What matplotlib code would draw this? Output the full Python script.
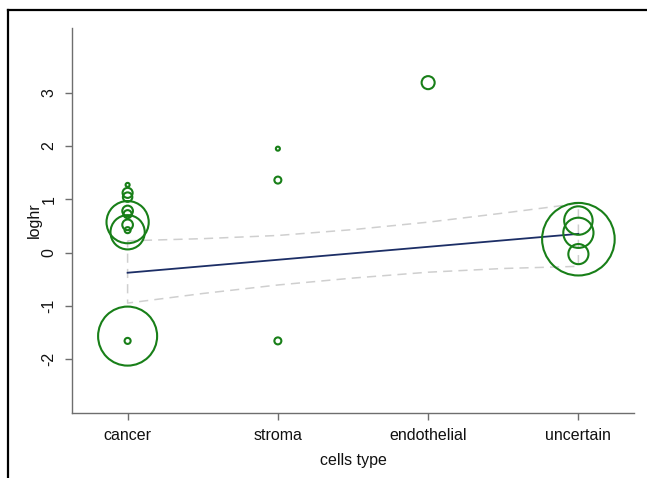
import numpy as np
import matplotlib.pyplot as plt
from matplotlib.lines import Line2D

plt.rcParams['font.family'] = ['Liberation Sans', 'DejaVu Sans']

categories = ['cancer', 'stroma', 'endothelial', 'uncertain']

# study-level log hazard ratios, grouped by cell type, with study weights
cancer_loghr = [1.27, 1.12, 1.04, 0.78, 0.72, 0.57, 0.52, 0.38, 0.42, -1.57, -1.66]
cancer_w = [4, 25, 22, 28, 16, 440, 28, 290, 9, 860, 9]
stroma_loghr = [1.95, 1.36, -1.66]
stroma_w = [4, 12, 12]
endo_loghr = [3.19]
endo_w = [42]
uncert_loghr = [0.25, 0.60, 0.37, -0.03]
uncert_w = [1300, 200, 225, 100]

# fitted meta-regression line and its 95% band
fit_x = [1.0, 4.0]
fit_y = [-0.38, 0.35]
band_x = [1.0, 1.5, 2.0, 2.5, 3.0, 3.5, 4.0]
band_hi = [0.22, 0.26, 0.32, 0.43, 0.57, 0.74, 0.92]
band_lo = [-0.95, -0.77, -0.61, -0.48, -0.37, -0.30, -0.26]

fig = plt.figure(figsize=(6.47, 4.78), dpi=100)
ax = fig.add_axes([0.1113, 0.136, 0.8686, 0.8054])

green = '#187f18'
groups = [(1, cancer_loghr, cancer_w), (2, stroma_loghr, stroma_w),
          (3, endo_loghr, endo_w), (4, uncert_loghr, uncert_w)]
for xpos, vals, w in groups:
    s = np.array(w) * 2.1
    ax.scatter([xpos] * len(vals), vals, s=s, facecolors='none',
               edgecolors=green, linewidths=1.5, zorder=3)

# confidence band outline (dashed, closed)
px = band_x + band_x[::-1] + [band_x[0]]
py = band_hi + band_lo[::-1] + [band_hi[0]]
ax.plot(px, py, color='#cfcfcf', lw=1.1, ls=(0, (6, 4)), zorder=1)
ax.plot(fit_x, fit_y, color='#1c2e66', lw=1.3, zorder=2)

ax.set_xlim(0.63, 4.37)
ax.set_ylim(-3.014, 4.216)
ax.set_xticks([1, 2, 3, 4])
ax.set_xticklabels(categories)
ax.set_yticks([-2, -1, 0, 1, 2, 3])
ax.set_yticklabels(['-2', '-1', '0', '1', '2', '3'], rotation=90, va='center')

for side in ['top', 'right']:
    ax.spines[side].set_visible(False)
for side in ['left', 'bottom']:
    ax.spines[side].set_color('#6e6e6e')
    ax.spines[side].set_linewidth(1.0)
ax.tick_params(axis='both', colors='#6e6e6e', length=5, width=1.0,
               labelcolor='#111111', labelsize=11.5)
ax.tick_params(axis='x', pad=6)
ax.tick_params(axis='y', pad=6)

ax.set_xlabel('cells type', fontsize=11.5, color='#111111', labelpad=7)
ax.set_ylabel('loghr', fontsize=11.5, color='#111111', labelpad=0)

# outer frame on top and left
fig.add_artist(Line2D([8 / 647, 1.0], [1 - 10 / 478, 1 - 10 / 478],
                      transform=fig.transFigure, color='black', lw=1.6))
fig.add_artist(Line2D([8 / 647, 8 / 647], [0, 1 - 10 / 478],
                      transform=fig.transFigure, color='black', lw=1.6))

fig.savefig('out.png', dpi=100)
